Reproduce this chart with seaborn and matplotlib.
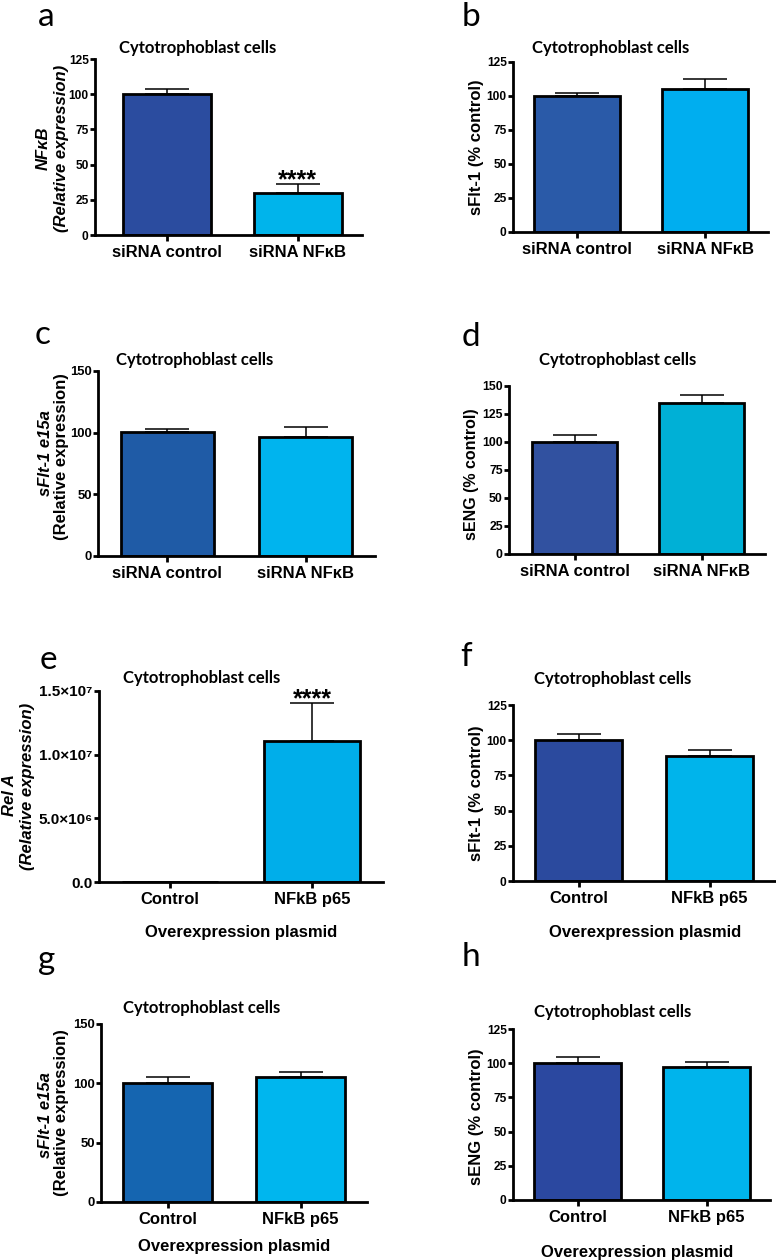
import numpy as np
import pandas as pd
import matplotlib
matplotlib.use("Agg")
import matplotlib.pyplot as plt
import seaborn as sns

# figure size in pixels
W, H = 776, 1260

sirna_groups = ["siRNA control", "siRNA NF\u03baB"]
plasmid_groups = ["Control", "NFkB p65"]

# values (mean, upper error)
a_mean = [100, 29.5]
a_err = [3.6, 6.5]
b_mean = [100, 105.5]
b_err = [2.0, 7.3]
c_mean = [100.3, 96.8]
c_err = [2.7, 7.5]
d_mean = [100, 134.5]
d_err = [6.5, 7.5]
e_mean = [1, 11.1e6]
e_err = [0, 2.97e6]
f_mean = [100, 89]
f_err = [4.7, 4.2]
g_mean = [100, 105.6]
g_err = [5.0, 4.2]
h_mean = [100, 97.4]
h_err = [4.4, 3.2]

ticks_125 = [0, 25, 50, 75, 100, 125]
ticks_150 = [0, 50, 100, 150]
ticks_150_fine = [0, 25, 50, 75, 100, 125, 150]
e_ticks = [0, 5e6, 1e7, 1.5e7]
e_tick_labels = ["0.0", "5.0\u00d710\u2076", "1.0\u00d710\u2077", "1.5\u00d710\u2077"]

sns.set_style("ticks")
plt.rcParams["font.family"] = ["Liberation Sans", "DejaVu Sans"]
plt.rcParams["font.weight"] = "bold"
plt.rcParams["text.color"] = "black"
plt.rcParams["axes.labelcolor"] = "black"
plt.rcParams["axes.linewidth"] = 2
plt.rcParams["xtick.major.width"] = 2
plt.rcParams["ytick.major.width"] = 2
plt.rcParams["xtick.major.size"] = 4
plt.rcParams["ytick.major.size"] = 3.5
plt.rcParams["xtick.color"] = "black"
plt.rcParams["ytick.color"] = "black"
plt.rcParams["axes.edgecolor"] = "black"

fig = plt.figure(figsize=(W / 100, H / 100), dpi=100)


def fx(x):
    return x / W


def fy(y):
    return 1 - y / H


def panel(box, groups, means, errs, colors, yticks, ylim, xlim, ysize, ytick_labels=None, stars=False):
    left, right, top, bottom = box
    ax = fig.add_axes([fx(left), fy(bottom), (right - left) / W, (bottom - top) / H])
    df = pd.DataFrame({"group": groups, "value": means})
    sns.barplot(data=df, x="group", y="value", hue="group", palette=colors,
                saturation=1, width=0.67, edgecolor="black", linewidth=2,
                errorbar=None, legend=False, ax=ax)
    ax.errorbar(range(len(means)), means, yerr=[np.zeros(len(errs)), errs],
                fmt="none", ecolor="black", elinewidth=1.1, capsize=15.5,
                capthick=1.1, zorder=3)
    if stars:
        top_val = means[1] + errs[1]
        ax.annotate("****", xy=(1, top_val), xytext=(0, -6), textcoords="offset points",
                    ha="center", va="bottom", fontsize=18, fontweight="bold")
    ax.set_xlim(*xlim)
    ax.set_ylim(*ylim)
    ax.set_yticks(yticks)
    if ytick_labels is not None:
        ax.set_yticklabels(ytick_labels)
    ax.tick_params(axis="y", labelsize=ysize, pad=1)
    ax.tick_params(axis="x", labelsize=12, pad=3)
    for lab in ax.get_xticklabels() + ax.get_yticklabels():
        lab.set_fontweight("bold")
    ax.set_xlabel("")
    ax.set_ylabel("")
    sns.despine(ax=ax)
    ax.spines["left"].set_bounds(ylim[0], ylim[1])
    return ax


def title(x, y, s="Cytotrophoblast cells"):
    fig.text(fx(x), fy(y), s, ha="center", va="center", fontsize=12,
             fontweight="bold", family="Lato")


def letter(x, y, s):
    fig.text(fx(x), fy(y), s, ha="center", va="center", fontsize=24,
             fontweight="normal", family="Lato")


def ylab(x, y, s, italic=False, size=12):
    fig.text(fx(x), fy(y), s, ha="center", va="center", rotation=90,
             fontsize=size, fontweight="bold", style="italic" if italic else "normal")


def xlab(x, y, s="Overexpression plasmid"):
    fig.text(fx(x), fy(y), s, ha="center", va="center", fontsize=12, fontweight="bold")


# a
panel((95, 362, 59, 235), sirna_groups, a_mean, a_err, ["#2B4C9F", "#00B4EB"],
      ticks_125, (0, 125), (-0.55, 1.49), 8.6, stars=True)
letter(46, 17, "a")
title(198, 48)
ylab(43, 148, "NF\u03baB", italic=True)
ylab(62, 148, "(Relative expression)", italic=True)

# b
panel((513, 768, 62, 232), sirna_groups, b_mean, b_err, ["#2A5AA8", "#00AEEF"],
      ticks_125, (0, 125), (-0.5, 1.49), 8.6)
letter(471, 17, "b")
title(611, 48)
ylab(477, 147, "sFlt-1 (% control)")

# c
panel((98, 375, 371, 556), sirna_groups, c_mean, c_err, ["#1F5BA6", "#00B4EE"],
      ticks_150, (0, 150), (-0.5, 1.5), 9.4)
letter(43, 335, "c")
title(195, 360)
ylab(45, 453, "sFlt-1 e15a", italic=True)
ylab(62, 457, "(Relative expression)")

# d
panel((509, 765, 386, 554), sirna_groups, d_mean, d_err, ["#3151A0", "#00B0D6"],
      ticks_150_fine, (0, 150), (-0.52, 1.5), 8.8)
letter(471, 337, "d")
title(618, 360)
ylab(472, 474, "sENG (% control)", size=11.5)

# e
panel((99, 383, 691, 882), plasmid_groups, e_mean, e_err, ["#2B4C9F", "#00AEEA"],
      e_ticks, (0, 1.5e7), (-0.5, 1.5), 11, ytick_labels=e_tick_labels, stars=True)
letter(48, 660, "e")
title(202, 678)
ylab(9, 795, "Rel A", italic=True)
ylab(28, 786, "(Relative expression)", italic=True)
xlab(241, 932)

# f
panel((513, 775, 705, 881), plasmid_groups, f_mean, f_err, ["#2B4A9E", "#00B4EB"],
      ticks_125, (0, 125), (-0.5, 1.5), 8.6)
letter(466, 657, "f")
title(613, 679)
ylab(477, 793, "sFlt-1 (% control)")
xlab(645, 932)

# g
panel((101, 367, 1024, 1202), plasmid_groups, g_mean, g_err, ["#1565B0", "#00B6EE"],
      ticks_150, (0, 150), (-0.5, 1.5), 9.4)
letter(47, 960, "g")
title(202, 1008)
ylab(45, 1115, "sFlt-1 e15a", italic=True)
ylab(62, 1113, "(Relative expression)")
xlab(234, 1247)

# h
panel((513, 770, 1029, 1200), plasmid_groups, h_mean, h_err, ["#2B48A0", "#00B4EC"],
      ticks_125, (0, 125), (-0.5, 1.49), 8.6)
letter(471, 957, "h")
title(613, 1012)
ylab(477, 1117, "sENG (% control)")
xlab(637, 1252)

fig.savefig("out.png", dpi=100, facecolor="white")
